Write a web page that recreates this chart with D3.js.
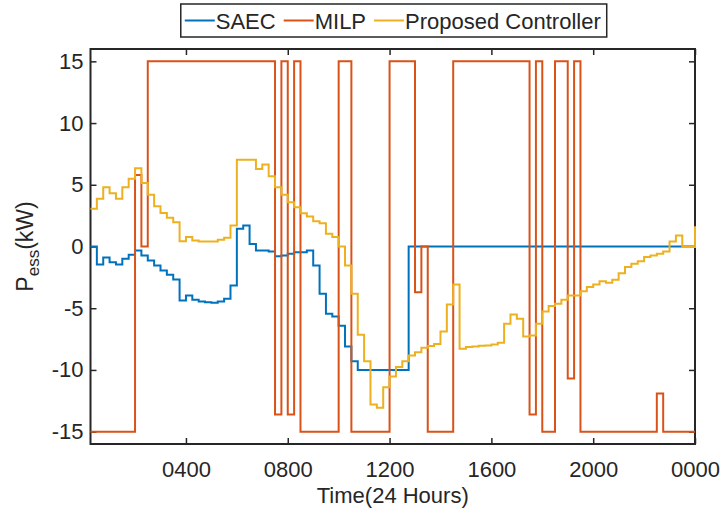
<!DOCTYPE html>
<html>
<head>
<meta charset="utf-8">
<script src="https://cdn.jsdelivr.net/npm/d3@7"></script>
<style>
  html, body { margin: 0; padding: 0; background: #fff; }
  svg { display: block; }
  text { font-family: "Liberation Sans", Arial, Helvetica, sans-serif; fill: #262626; }
</style>
</head>
<body>
<svg id="chart" width="721" height="515"></svg>
<script>
// 15-minute intervals over one day (1..96)
const steps = d3.range(1, 97);

// Battery (ESS) power in kW for each interval
const saec = [
  0, -1.45, -0.9, -1.27, -1.45, -1.0, -0.67, -0.32, -0.73, -1.13,
  -1.54, -1.94, -2.29, -2.67, -4.37, -3.97, -4.32, -4.45, -4.51, -4.56,
  -4.45, -4.24, -3.16, 1.43, 1.70, 0.2, -0.32, -0.32, -0.40, -0.78,
  -0.73, -0.59, -0.46, -0.46, -0.32, -1.54, -3.83, -5.45, -5.67, -6.42,
  -8.1, -9.29, -10, -10, -10, -10, -10, -10, -10, -10,
  0, 0, 0, 0, 0, 0, 0, 0, 0, 0,
  0, 0, 0, 0, 0, 0, 0, 0, 0, 0,
  0, 0, 0, 0, 0, 0, 0, 0, 0, 0,
  0, 0, 0, 0, 0, 0, 0, 0, 0, 0,
  0, 0, 0, 0, 0, 0
];

const milp = [
  -15, -15, -15, -15, -15, -15, -15, 5.8, 0, 15,
  15, 15, 15, 15, 15, 15, 15, 15, 15, 15,
  15, 15, 15, 15, 15, 15, 15, 15, 15, -13.6,
  15, -13.6, 15, -15, -15, -15, -15, -15, -15, 15,
  15, -15, -15, -15, -15, -15, -15, 15, 15, 15,
  15, -3.7, 0, -15, -15, -15, -15, 15, 15, 15,
  15, 15, 15, 15, 15, 15, 15, 15, 15, -13.6,
  15, -15, -15, 15, 15, -10.7, 15, -15, -15, -15,
  -15, -15, -15, -15, -15, -15, -15, -15, -15, -11.9,
  -15, -15, -15, -15, -15, -15
];

const proposed = [
  3.05, 3.86, 4.8, 4.31, 3.86, 4.8, 5.48, 6.34, 5.15, 4.2,
  3.26, 2.72, 2.32, 1.97, 0.43, 0.76, 0.49, 0.4, 0.4, 0.4,
  0.54, 0.7, 1.7, 7.03, 7.03, 7.03, 6.28, 6.64, 5.69, 4.8,
  4.2, 3.58, 3.18, 2.7, 2.43, 2.05, 1.89, 1.03, 0.76, 0.0,
  -1.54, -3.83, -7.15, -9.29, -12.8, -13.06, -11.4, -10.53, -9.77, -9.29,
  -8.83, -8.56, -8.2, -8.07, -7.9, -6.88, -4.7, -3.08, -8.29, -8.15,
  -8.1, -8.05, -8.02, -7.94, -7.8, -6.26, -5.5, -5.86, -7.29, -7.21,
  -6.26, -5.26, -4.83, -4.64, -4.32, -3.97, -3.97, -3.62, -3.29, -3.08,
  -2.81, -2.94, -2.7, -2.16, -1.67, -1.4, -1.19, -0.86, -0.73, -0.59,
  -0.4, 0.4, 0.89, -0.05, -0.05, 1.65
];

const seriesNames = ["SAEC", "MILP", "Proposed Controller"];
const seriesColors = ["#0072BD", "#D95319", "#EDB120"];

const xTickSteps = [16, 32, 48, 64, 80, 96];
const xTickLabels = ["0400", "0800", "1200", "1600", "2000", "0000"];
const yTicks = [-15, -10, -5, 0, 5, 10, 15];

const svg = d3.select("#chart");
const pL = 90.5, pR = 695, pT = 49, pB = 444;

const x = d3.scaleLinear().domain([1, 96]).range([pL, pR]);
const y = d3.scaleLinear().domain([-16, 16]).range([pB, pT]);

svg.append("rect").attr("width", 721).attr("height", 515).attr("fill", "#fff");

// Clip to the plot box, leaving room for the full stroke at the edges
svg.append("defs").append("clipPath").attr("id", "plotClip")
  .append("rect").attr("x", pL - 1.5).attr("y", pT)
  .attr("width", pR - pL + 3).attr("height", pB - pT);

// Axes (box with inward ticks on all four sides)
const tickLen = 6;
const fmtX = (d) => xTickLabels[xTickSteps.indexOf(d)];
const fmtY = (d) => String(d);

const xAxisB = d3.axisBottom(x).tickValues(xTickSteps).tickFormat(fmtX)
  .tickSizeInner(-tickLen).tickSizeOuter(0).tickPadding(17);
const xAxisT = d3.axisTop(x).tickValues(xTickSteps).tickFormat("")
  .tickSizeInner(-tickLen).tickSizeOuter(0);
const yAxisL = d3.axisLeft(y).tickValues(yTicks).tickFormat(fmtY)
  .tickSizeInner(-tickLen).tickSizeOuter(0).tickPadding(7);
const yAxisR = d3.axisRight(y).tickValues(yTicks).tickFormat("")
  .tickSizeInner(-tickLen).tickSizeOuter(0);

function styleAxis(g) {
  g.select(".domain").remove();
  g.selectAll(".tick line").attr("stroke", "#262626").attr("stroke-width", 1.5);
  g.selectAll(".tick text")
    .attr("fill", "#262626")
    .style("font-size", "22px")
    .style("font-family", "'Liberation Sans', Arial, sans-serif");
}

svg.append("g").attr("transform", `translate(0,${pB})`).call(xAxisB).call(styleAxis);
svg.append("g").attr("transform", `translate(0,${pT})`).call(xAxisT).call(styleAxis);
svg.append("g").attr("transform", `translate(${pL},0)`).call(yAxisL).call(styleAxis);
svg.append("g").attr("transform", `translate(${pR},0)`).call(yAxisR).call(styleAxis);

svg.append("rect")
  .attr("x", pL).attr("y", pT)
  .attr("width", pR - pL).attr("height", pB - pT)
  .attr("fill", "none").attr("stroke", "#262626").attr("stroke-width", 2);

// Stair-step traces, drawn over the axis box
const stair = d3.line()
  .x(d => x(d[0]))
  .y(d => y(d[1]))
  .curve(d3.curveStepAfter);

const plot = svg.append("g").attr("clip-path", "url(#plotClip)");
[saec, milp, proposed].forEach((vals, k) => {
  plot.append("path")
    .datum(steps.map((s, i) => [s, vals[i]]))
    .attr("fill", "none")
    .attr("stroke", seriesColors[k])
    .attr("stroke-width", 2)
    .attr("stroke-linejoin", "miter")
    .attr("d", stair);
});

// Axis titles
svg.append("text")
  .attr("x", (pL + pR) / 2).attr("y", 503)
  .attr("text-anchor", "middle")
  .style("font-size", "22px")
  .text("Time(24 Hours)");

const yl = svg.append("text")
  .attr("transform", `translate(33,${(pT + pB) / 2}) rotate(-90)`)
  .attr("text-anchor", "middle")
  .style("font-size", "23px");
yl.append("tspan").text("P");
yl.append("tspan").attr("dy", 6).style("font-size", "17px").text("ess");
yl.append("tspan").attr("dy", -6).text("(kW)");

// Legend
const legend = svg.append("g");
const legendFont = 22;
let cx = 0;
seriesNames.forEach((name, k) => {
  const g = legend.append("g");
  g.append("line").attr("x1", cx + 4).attr("x2", cx + 34)
    .attr("y1", 0).attr("y2", 0)
    .attr("stroke", seriesColors[k]).attr("stroke-width", 2);
  const t = g.append("text").attr("x", cx + 35).attr("y", 8)
    .style("font-size", legendFont + "px").text(name);
  cx += 35 + t.node().getComputedTextLength() + 4;
});
const legendW = cx + 2;
const legendX = (pL + pR) / 2 - legendW / 2 + 1;
legend.attr("transform", `translate(${legendX},20.5)`);
svg.insert("rect", "g")
  .attr("x", legendX).attr("y", 4)
  .attr("width", legendW).attr("height", 33)
  .attr("fill", "#fff").attr("stroke", "#262626").attr("stroke-width", 1.5);
</script>
</body>
</html>
